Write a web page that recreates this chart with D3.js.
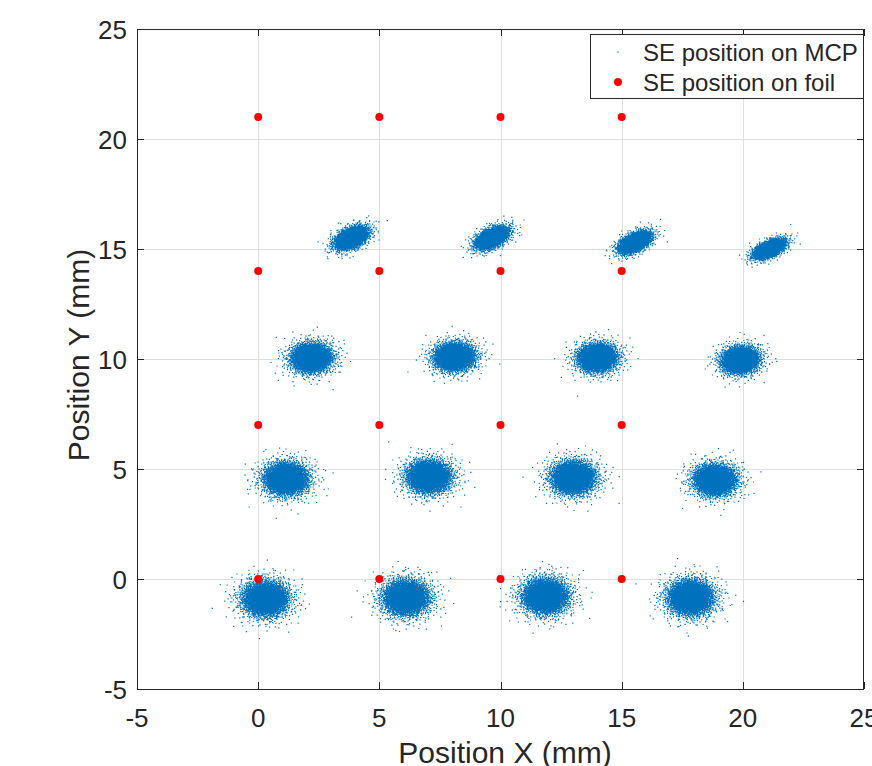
<!DOCTYPE html>
<html>
<head>
<meta charset="UTF-8">
<script src="https://cdn.jsdelivr.net/npm/d3@7/dist/d3.min.js"></script>
<style>
body { margin: 0; background: #fff; }
text { font-family: "Liberation Sans", Arial, sans-serif; fill: #262626; }
</style>
</head>
<body>
<svg id="chart" width="872" height="766"></svg>
<script>
// axis ticks
const xTicks = [-5, 0, 5, 10, 15, 20, 25];
const yTicks = [-5, 0, 5, 10, 15, 20, 25];

// SE position on foil (red dots)
const foilX = [0, 5, 10, 15, 0, 5, 10, 15, 0, 5, 10, 15, 0, 5, 10, 15];
const foilY = [0, 0, 0, 0, 7, 7, 7, 7, 14, 14, 14, 14, 21, 21, 21, 21];

// SE position on MCP - one blob per foil point, centre and core spread (mm)
const mcpX     = [0.3, 6.1, 11.85, 17.85, 1.15, 7.05, 13.0, 18.85, 2.2, 8.1, 14.0, 19.9, 3.85, 9.65, 15.55, 21.1];
const mcpY     = [-0.9, -0.85, -0.78, -0.85, 4.55, 4.65, 4.6, 4.5, 10.05, 10.1, 10.05, 9.95, 15.5, 15.5, 15.3, 15.0];
const mcpSx    = [0.41, 0.41, 0.41, 0.41, 0.39, 0.39, 0.39, 0.37, 0.35, 0.35, 0.34, 0.32, 0.3, 0.3, 0.29, 0.28];
const mcpSy    = [0.35, 0.35, 0.35, 0.35, 0.32, 0.32, 0.32, 0.3, 0.28, 0.27, 0.27, 0.25, 0.17, 0.16, 0.15, 0.13];
const mcpAngle = [0, 0, 0, 0, 0, 0, 0, 0, 5, 5, 5, 10, 30, 30, 30, 28];  // degrees
const mcpCount = 4500;
const haloShare = 0.2, haloScale = 1.5;   // looser outer part of each blob

const svg = d3.select("#chart");
const pLeft = 137, pRight = 864, pTop = 29, pBottom = 689;

const x = d3.scaleLinear().domain([-5, 25]).range([pLeft, pRight]);
const y = d3.scaleLinear().domain([-5, 25]).range([pBottom, pTop]);

// grid
const grid = svg.append("g").attr("stroke", "#dfdfdf").attr("stroke-width", 1);
xTicks.slice(1, -1).forEach(t => {
  grid.append("line").attr("x1", Math.round(x(t)) + 0.5).attr("x2", Math.round(x(t)) + 0.5)
    .attr("y1", pTop).attr("y2", pBottom);
});
yTicks.slice(1, -1).forEach(t => {
  grid.append("line").attr("y1", Math.round(y(t)) + 0.5).attr("y2", Math.round(y(t)) + 0.5)
    .attr("x1", pLeft).attr("x2", pRight);
});

// low-discrepancy sequence, used to lay the blob's dots out as a gaussian
function halton(i, b) {
  let f = 1, r = 0;
  while (i > 0) { f /= b; r += f * (i % b); i = Math.floor(i / b); }
  return r;
}

const mcp = svg.append("g");
mcpX.forEach((cx, c) => {
  const a = mcpAngle[c] * Math.PI / 180;
  let d = "";
  for (let k = 0; k < mcpCount; k++) {
    const idx = k + 1 + c * 7919;
    const u1 = halton(idx, 2), u2 = halton(idx, 3);
    const s = halton(idx, 5) < haloShare ? haloScale : 1;
    const r = Math.sqrt(-2 * Math.log(u1 || 1e-9)) * s;
    const g1 = r * Math.cos(2 * Math.PI * u2) * mcpSx[c];
    const g2 = r * Math.sin(2 * Math.PI * u2) * mcpSy[c];
    const px = x(cx + g1 * Math.cos(a) - g2 * Math.sin(a));
    const py = y(mcpY[c] + g1 * Math.sin(a) + g2 * Math.cos(a));
    d += "M" + (px - 0.6).toFixed(1) + "," + (py - 0.6).toFixed(1) + "h1.2v1.2h-1.2z";
  }
  mcp.append("path").attr("d", d).attr("fill", "#0072bd");
});

// foil dots
svg.append("g").selectAll("circle")
  .data(foilX.map((v, i) => [v, foilY[i]]))
  .join("circle")
  .attr("cx", d => x(d[0]))
  .attr("cy", d => y(d[1]))
  .attr("r", 4)
  .attr("fill", "#ff0000");

// axes box
svg.append("rect")
  .attr("x", pLeft + 0.5).attr("y", pTop + 0.5)
  .attr("width", pRight - pLeft - 1).attr("height", pBottom - pTop)
  .attr("fill", "none").attr("stroke", "#262626").attr("stroke-width", 1);

// ticks (inside, mirrored)
const tl = 7;
const ticks = svg.append("g").attr("stroke", "#262626").attr("stroke-width", 1);
xTicks.forEach(t => {
  const px = Math.round(x(t)) + 0.5;
  ticks.append("line").attr("x1", px).attr("x2", px).attr("y1", pBottom).attr("y2", pBottom - tl);
  ticks.append("line").attr("x1", px).attr("x2", px).attr("y1", pTop).attr("y2", pTop + tl);
});
yTicks.forEach(t => {
  const py = Math.round(y(t)) + 0.5;
  ticks.append("line").attr("y1", py).attr("y2", py).attr("x1", pLeft).attr("x2", pLeft + tl);
  ticks.append("line").attr("y1", py).attr("y2", py).attr("x1", pRight).attr("x2", pRight - tl);
});

// tick labels
svg.append("g").selectAll("text").data(xTicks).join("text")
  .attr("x", d => x(d)).attr("y", 727)
  .attr("text-anchor", "middle").attr("font-size", 26)
  .text(d => d);
svg.append("g").selectAll("text").data(yTicks).join("text")
  .attr("x", 127).attr("y", d => y(d) + 9.5)
  .attr("text-anchor", "end").attr("font-size", 26)
  .text(d => d);

// axis labels
svg.append("text").attr("x", 505).attr("y", 763)
  .attr("text-anchor", "middle").attr("font-size", 30)
  .text("Position X (mm)");
svg.append("text")
  .attr("transform", "translate(89,355) rotate(-90)")
  .attr("text-anchor", "middle").attr("font-size", 30)
  .text("Position Y (mm)");

// legend
const lg = svg.append("g");
lg.append("rect").attr("x", 590.5).attr("y", 34.5).attr("width", 273).attr("height", 64)
  .attr("fill", "#fff").attr("stroke", "#262626").attr("stroke-width", 1);
lg.append("rect").attr("x", 617.5).attr("y", 51.5).attr("width", 1.2).attr("height", 1.2).attr("fill", "#0072bd");
lg.append("circle").attr("cx", 618).attr("cy", 82).attr("r", 4).attr("fill", "#ff0000");
lg.append("text").attr("x", 643).attr("y", 61).attr("font-size", 24).text("SE position on MCP");
lg.append("text").attr("x", 643).attr("y", 91).attr("font-size", 24).text("SE position on foil");
</script>
</body>
</html>
